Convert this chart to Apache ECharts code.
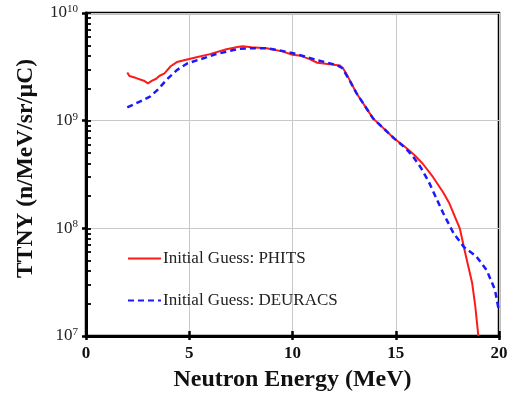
<!DOCTYPE html>
<html>
<head>
<meta charset="utf-8">
<script src="https://cdn.jsdelivr.net/npm/echarts@6/dist/echarts.min.js"></script>
<style>
  html, body { margin: 0; padding: 0; background: #fff; }
  #chart { width: 515px; height: 398px; }
</style>
</head>
<body>
<div id="chart"></div>
<script>
// Neutron energy (MeV) and TTNY (n/MeV/sr/uC) for each initial guess
const phitsEnergy = [2.0, 2.1, 2.4, 2.8, 3.0, 3.2, 3.4, 3.55, 3.8, 4.1, 4.4, 4.9, 5.4, 6.0, 6.8, 7.4, 7.6, 8.0, 8.75, 9.5, 10.0, 10.4, 10.8, 11.2, 11.8, 12.3, 12.45, 12.6, 13.1, 13.9, 14.9, 15.5, 15.9, 16.3, 16.8, 17.3, 17.6, 18.1, 18.4, 18.7, 18.85, 19.0];
const phitsTTNY = [2.8e9, 2.6e9, 2.5e9, 2.35e9, 2.22e9, 2.35e9, 2.45e9, 2.6e9, 2.75e9, 3.2e9, 3.5e9, 3.7e9, 3.9e9, 4.15e9, 4.6e9, 4.85e9, 4.9e9, 4.8e9, 4.7e9, 4.4e9, 4.1e9, 4.0e9, 3.75e9, 3.45e9, 3.35e9, 3.25e9, 3.05e9, 2.75e9, 1.8e9, 1.05e9, 6.9e8, 5.6e8, 4.8e8, 4.0e8, 3.0e8, 2.15e8, 1.7e8, 1.0e8, 5.5e7, 3.1e7, 1.9e7, 1.0e7];

const deuracsEnergy = [2.0, 2.6, 3.1, 3.5, 3.9, 4.4, 4.9, 5.5, 6.3, 7.4, 7.9, 8.75, 9.5, 10.2, 11.2, 12.1, 12.4, 12.8, 13.1, 13.9, 14.9, 15.5, 15.85, 16.2, 16.6, 17.3, 17.8, 18.3, 18.9, 19.4, 19.8, 20.0];
const deuracsTTNY = [1.33e9, 1.5e9, 1.67e9, 1.96e9, 2.4e9, 2.95e9, 3.4e9, 3.7e9, 4.15e9, 4.65e9, 4.7e9, 4.7e9, 4.45e9, 4.15e9, 3.65e9, 3.3e9, 3.1e9, 2.3e9, 1.8e9, 1.05e9, 6.9e8, 5.5e8, 4.6e8, 3.7e8, 2.7e8, 1.38e8, 9.0e7, 6.7e7, 5.5e7, 4.1e7, 2.7e7, 1.7e7];

const seriesNames = ['Initial Guess: PHITS', 'Initial Guess: DEURACS'];

// Minor log ticks (2..9 within each decade)
const minorTickValues = [];
[1e7, 1e8, 1e9].forEach(d => { for (let k = 1; k <= 9; k++) minorTickValues.push(d * k); });
minorTickValues.push(1e10);

const pair = (xs, ys) => xs.map((x, i) => [x, ys[i]]);
const serif = '"Liberation Serif", "DejaVu Serif", serif';

const chart = echarts.init(document.getElementById('chart'));
chart.setOption({
  animation: false,
  backgroundColor: '#fff',
  grid: {
    left: 86, right: 16, top: 13, bottom: 62,
    show: true, borderColor: '#000', borderWidth: 2.5, backgroundColor: 'transparent'
  },
  legend: {
    orient: 'vertical',
    left: 122, top: 245,
    itemWidth: 33, itemHeight: 14, itemGap: 25,
    itemStyle: { color: 'transparent', borderColor: 'transparent', borderWidth: 0 },
    textStyle: { fontFamily: serif, fontSize: 17, color: '#222', padding: [0, 0, 0, -3] },
    data: seriesNames
  },
  xAxis: [{
    type: 'value', min: 0, max: 20, interval: 5,
    axisLine: { show: true, lineStyle: { color: '#000', width: 3 } },
    axisTick: { show: true, length: 4, lineStyle: { color: '#000', width: 2.5 } },
    axisLabel: { color: '#111', fontFamily: serif, fontSize: 17, fontWeight: 'bold', margin: 9 },
    splitLine: { show: true, lineStyle: { color: '#c8c8c8', width: 1 } },
    name: 'Neutron Energy (MeV)', nameLocation: 'middle', nameGap: 32,
    nameTextStyle: { color: '#111', fontFamily: serif, fontSize: 24, fontWeight: 'bold' }
  }, {
    type: 'value', min: 0, max: 20, interval: 5, position: 'bottom',
    axisLine: { show: false },
    axisTick: { show: true, inside: true, length: 5, lineStyle: { color: '#000', width: 2.5 } },
    axisLabel: { show: false }, splitLine: { show: false }
  }],
  yAxis: [{
    type: 'log', logBase: 10, min: 1e7, max: 1e10,
    axisLine: { show: true, lineStyle: { color: '#000', width: 3 } },
    axisTick: { show: true, length: 4, lineStyle: { color: '#000', width: 2.5 } },
    axisLabel: {
      margin: 8, color: '#222', fontFamily: serif, fontSize: 17,
      formatter: v => '10{s|' + Math.round(Math.log10(v)) + '}',
      rich: { s: { fontFamily: serif, fontSize: 11, color: '#222', verticalAlign: 'top', padding: [0, 0, 8, 0] } }
    },
    splitLine: { show: true, lineStyle: { color: '#c8c8c8', width: 1 } },
    name: 'TTNY (n/MeV/sr/μC)', nameLocation: 'middle', nameGap: 48,
    nameTextStyle: { color: '#111', fontFamily: serif, fontSize: 23.5, fontWeight: 'bold', padding: [0, 0, 0, 12] }
  }, {
    type: 'log', logBase: 10, min: 1e7, max: 1e10, position: 'left',
    axisLine: { show: false },
    axisTick: { show: true, inside: true, length: 5, customValues: minorTickValues, lineStyle: { color: '#000', width: 1.8 } },
    axisLabel: { show: false }, splitLine: { show: false }
  }],
  series: [{
    name: seriesNames[0], type: 'line', symbol: 'none',
    data: pair(phitsEnergy, phitsTTNY),
    lineStyle: { color: '#ff1a1a', width: 2 },
    itemStyle: { color: '#ff1a1a' }, z: 3
  }, {
    name: seriesNames[1], type: 'line', symbol: 'none',
    data: pair(deuracsEnergy, deuracsTTNY),
    lineStyle: { color: '#1a1aff', width: 2.5, type: [6, 4] },
    itemStyle: { color: '#1a1aff' }, z: 4
  }]
});
</script>
</body>
</html>
